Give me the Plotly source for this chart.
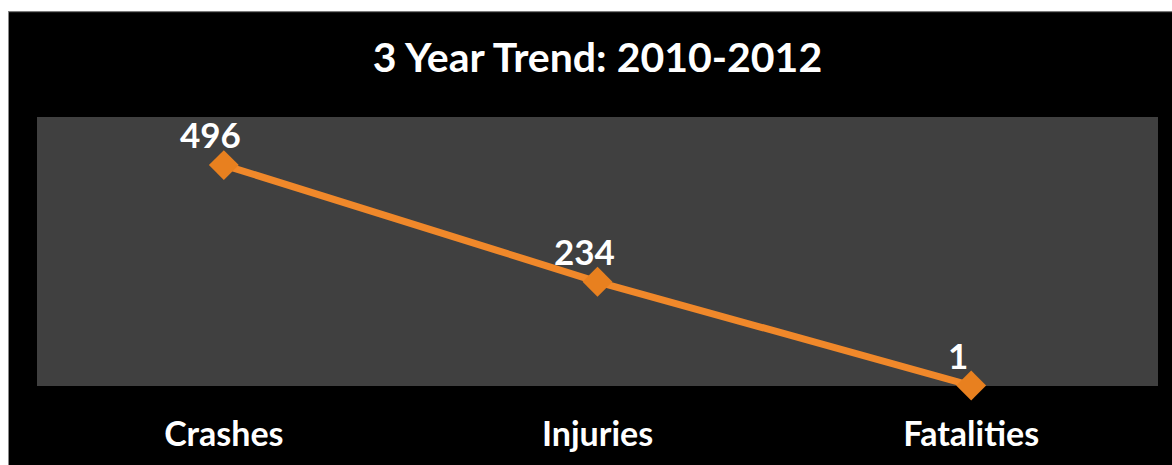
import plotly.graph_objects as go

categories = ["Crashes", "Injuries", "Fatalities"]
values = [496, 234, 1]
title_text = "3 Year Trend: 2010-2012"

FONT = "Lato"
W, H = 1172, 465
L, R, T, B = 37, 14, 117, 76
pw = W - L - R
ph = H - T - B

fig = go.Figure()
fig.add_trace(go.Scatter(
    x=categories, y=values,
    mode="lines+markers",
    line=dict(color="#F0882A", width=7),
    marker=dict(symbol="diamond", size=23, color="#E8801F"),
    cliponaxis=False,
    hoverinfo="skip",
))

annotations = [
    dict(x=c, y=v, xref="x", yref="y", text=str(v), showarrow=False,
         xshift=-13, yshift=31, xanchor="center", yanchor="middle",
         font=dict(family=FONT, size=35, color="white", weight="bold"))
    for c, v in zip(categories, values)
]

def px_x(p):
    return (p - L) / pw

def px_y(p):
    return (H - B - p) / ph

shapes = [
    dict(type="rect", xref="paper", yref="paper", x0=px_x(-5), x1=px_x(W + 5),
         y0=px_y(10), y1=px_y(-5), fillcolor="white", line=dict(width=0), layer="above"),
    dict(type="rect", xref="paper", yref="paper", x0=px_x(-5), x1=px_x(8),
         y0=px_y(H + 5), y1=px_y(-5), fillcolor="white", line=dict(width=0), layer="above"),
    dict(type="line", xref="paper", yref="paper", x0=px_x(8), x1=px_x(W + 5),
         y0=px_y(10.5), y1=px_y(10.5), line=dict(color="#888888", width=1), layer="above"),
    dict(type="line", xref="paper", yref="paper", x0=px_x(8.5), x1=px_x(8.5),
         y0=px_y(10), y1=px_y(H + 5), line=dict(color="#888888", width=1), layer="above"),
]

fig.update_layout(
    width=W, height=H,
    margin=dict(l=L, r=R, t=T, b=B),
    paper_bgcolor="black",
    plot_bgcolor="#404040",
    showlegend=False,
    title=dict(text=title_text, x=0.5, xanchor="center", y=1 - 58 / H, yanchor="middle",
               xref="paper",
               font=dict(family=FONT, size=41, color="white", weight="bold")),
    xaxis=dict(range=[-0.5, 2.5], showgrid=False, zeroline=False, showline=False,
               ticks="", ticklabelstandoff=25,
               tickfont=dict(family=FONT, size=34, color="white", weight="bold")),
    yaxis=dict(range=[0, 604], showgrid=False, zeroline=False, showline=False,
               showticklabels=False, ticks=""),
    shapes=shapes,
    annotations=annotations,
)

fig.write_html(
    "out.html",
    config={"displayModeBar": False, "staticPlot": True},
    post_script=(
        "document.body.style.margin='0';"
        "document.documentElement.style.overflow='hidden';"
        "document.body.style.overflow='hidden';"
    ),
)
